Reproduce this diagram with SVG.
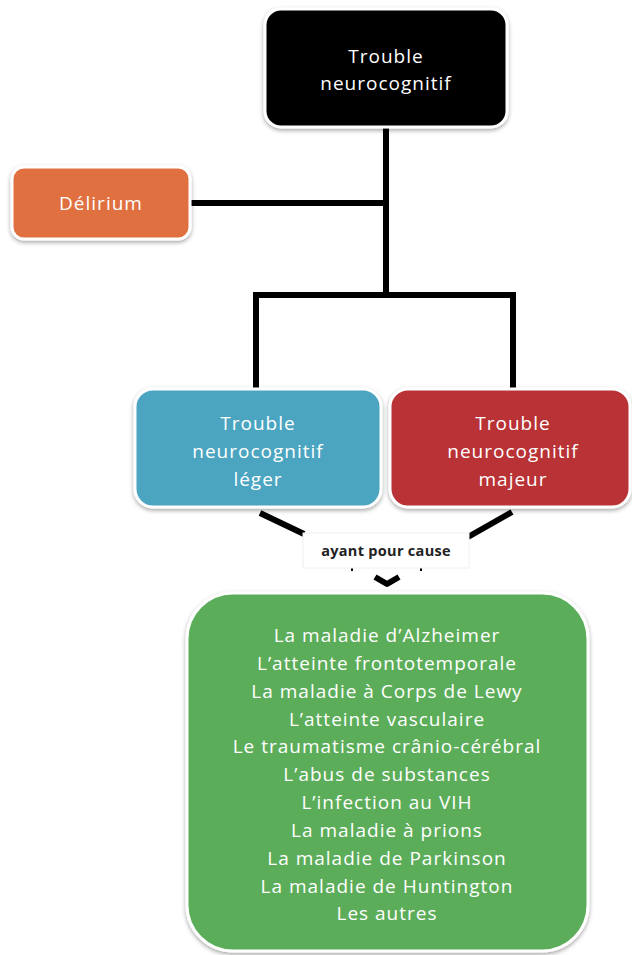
<svg xmlns="http://www.w3.org/2000/svg" width="632" height="955" viewBox="0 0 632 955">
<defs>
<filter id="sh" x="-10%" y="-10%" width="120%" height="125%">
<feDropShadow dx="0" dy="2" stdDeviation="2" flood-color="#000" flood-opacity="0.35"/>
</filter>
</defs>
<style>
.box{stroke:#ffffff;stroke-width:3;filter:url(#sh)}
.lbl{font-family:"Open Sans","Liberation Sans",sans-serif;fill:#ffffff;text-anchor:middle;font-size:19px;letter-spacing:1px}
.conn{stroke:#000;stroke-width:6;fill:none}
</style>
<rect width="632" height="955" fill="#fff"/>
<g id="connectors">
<line class="conn" x1="386" y1="126" x2="386" y2="295"/>
<line class="conn" x1="190" y1="203" x2="386" y2="203"/>
<polyline class="conn" points="256,389 256,295 513,295 513,389"/>
<line class="conn" x1="260" y1="513" x2="304" y2="534"/>
<line class="conn" x1="512" y1="512" x2="468" y2="537"/>
<path d="M375,577 L387,584 L399,577" stroke="#000" stroke-width="6" fill="none" stroke-linejoin="round"/>
<line x1="352" y1="568" x2="352" y2="571" stroke="#000" stroke-width="2"/>
<line x1="421" y1="568" x2="421" y2="571" stroke="#000" stroke-width="2"/>
</g>
<g id="n-top">
<rect class="box" x="265" y="9" width="242" height="118" rx="16" fill="#000"/>
<text class="lbl" x="386" y="63">Trouble</text>
<text class="lbl" x="386" y="90">neurocognitif</text>
</g>
<g id="n-delirium">
<rect class="box" x="12" y="167" width="178" height="72" rx="12" fill="#E07040"/>
<text class="lbl" x="101" y="210">Délirium</text>
</g>
<g id="n-leger">
<rect class="box" x="135" y="389" width="246" height="118" rx="18" fill="#4BA5C0"/>
<text class="lbl" x="258" y="430">Trouble</text>
<text class="lbl" x="258" y="458">neurocognitif</text>
<text class="lbl" x="258" y="486">léger</text>
</g>
<g id="n-majeur">
<rect class="box" x="390" y="389" width="240" height="118" rx="18" fill="#B93236"/>
<text class="lbl" x="513" y="430">Trouble</text>
<text class="lbl" x="513" y="458">neurocognitif</text>
<text class="lbl" x="513" y="486">majeur</text>
</g>
<g id="n-cause">
<rect x="303" y="533" width="166" height="35" fill="#fff" stroke="#f0f0f0" stroke-width="1"/>
<text x="386" y="556" font-family="'Open Sans','Liberation Sans',sans-serif" font-size="14.5" font-weight="bold" fill="#222" text-anchor="middle" letter-spacing="0.3">ayant pour cause</text>
</g>
<g id="n-causes">
<rect class="box" x="187" y="593" width="401" height="358" rx="46" fill="#5BAD5A"/>
<text class="lbl" x="387" y="642">La maladie d’Alzheimer</text>
<text class="lbl" x="387" y="670">L’atteinte frontotemporale</text>
<text class="lbl" x="387" y="698">La maladie à Corps de Lewy</text>
<text class="lbl" x="387" y="726">L’atteinte vasculaire</text>
<text class="lbl" x="387" y="753">Le traumatisme crânio-cérébral</text>
<text class="lbl" x="387" y="781">L’abus de substances</text>
<text class="lbl" x="387" y="809">L’infection au VIH</text>
<text class="lbl" x="387" y="837">La maladie à prions</text>
<text class="lbl" x="387" y="865">La maladie de Parkinson</text>
<text class="lbl" x="387" y="893">La maladie de Huntington</text>
<text class="lbl" x="387" y="920">Les autres</text>
</g>
</svg>
